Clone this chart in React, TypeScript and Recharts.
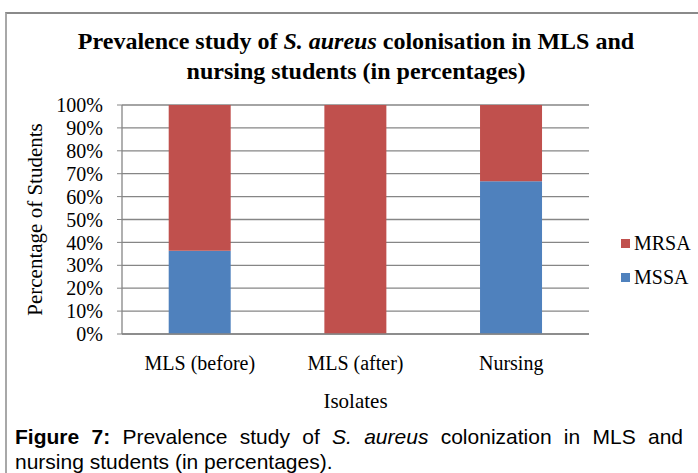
import React from 'react';
import { BarChart, Bar, XAxis, YAxis, CartesianGrid, Legend } from 'recharts';

const categories = ['MLS (before)', 'MLS (after)', 'Nursing'];
const mssaValues = [36.4, 0, 66.7];
const mrsaValues = [63.6, 100, 33.3];
const yTicks = [0, 10, 20, 30, 40, 50, 60, 70, 80, 90, 100];
const boundaryTicks = [0, 1, 2, 3];

const data = categories.map((name, i) => ({
  name,
  pos: i + 0.5,
  MSSA: mssaValues[i],
  MRSA: mrsaValues[i],
}));

const legendItems = [
  { name: 'MRSA', color: '#C0504D' },
  { name: 'MSSA', color: '#4F81BD' },
];

const serif = '"Liberation Serif", "Times New Roman", serif';
const sans = '"Liberation Sans", Arial, sans-serif';
const axisGray = '#868686';

const renderLegend = () => (
  <div style={{ fontFamily: serif, fontSize: 20, color: '#000' }}>
    {legendItems.map((it) => (
      <div key={it.name} style={{ display: 'flex', alignItems: 'center', height: 34, paddingLeft: 32 }}>
        <svg width={9} height={9} style={{ flexShrink: 0, marginRight: 4 }}>
          <rect x={0} y={0} width={9} height={9} fill={it.color} />
        </svg>
        <span>{it.name}</span>
      </div>
    ))}
  </div>
);

const YLabel = (props: any) => {
  const vb = props.viewBox || {};
  const cx = 35;
  const cy = vb.y + vb.height / 2;
  return (
    <text x={cx} y={cy} transform={`rotate(-90, ${cx}, ${cy})`} textAnchor="middle" dominantBaseline="central"
      fontFamily={serif} fontSize={21} fill="#000">
      Percentage of Students
    </text>
  );
};

const XLabel = (props: any) => {
  const vb = props.viewBox || {};
  const cx = vb.x + vb.width / 2;
  return (
    <text x={cx} y={401} textAnchor="middle" dominantBaseline="central" fontFamily={serif} fontSize={21} fill="#000">
      Isolates
    </text>
  );
};

export default function App() {
  return (
    <div style={{ position: 'absolute', left: 0, top: 0, width: 698, height: 473, background: '#fff', overflow: 'hidden' }}>
      <div style={{ position: 'absolute', left: 5, top: 12, width: 760, height: 520, borderTop: '2px solid #8a8a8a', borderLeft: '2px solid #a8a8a8' }} />
      <div style={{ position: 'absolute', left: 0, top: 26, width: 712, textAlign: 'center', fontFamily: serif, fontWeight: 'bold', fontSize: 24, lineHeight: '30px', color: '#000' }}>
        Prevalence study of <i>S. aureus</i> colonisation in MLS and<br />nursing students (in percentages)
      </div>
      <div style={{ position: 'absolute', left: 0, top: 0 }}>
        <BarChart width={698} height={420} data={data} margin={{ top: 105, right: 19, left: 0, bottom: 6 }} barCategoryGap="30%">
          <CartesianGrid horizontal vertical={false} stroke={axisGray} strokeWidth={1.3} />
          <XAxis xAxisId="b" type="number" dataKey="pos" domain={[0, 3]} ticks={boundaryTicks} tick={false}
            height={0} axisLine={false} tickLine={{ stroke: axisGray }} tickSize={5} />
          <XAxis dataKey="name" height={80} tickLine={false} axisLine={{ stroke: axisGray, strokeWidth: 1.3 }}
            tick={{ fontFamily: serif, fontSize: 20, fill: '#000' }} tickSize={5} tickMargin={17} interval={0}
            label={<XLabel />} />
          <YAxis width={122} domain={[0, 100]} ticks={yTicks} interval={0} tickFormatter={(v: number) => `${v}%`}
            axisLine={{ stroke: axisGray, strokeWidth: 1.3 }} tickLine={{ stroke: axisGray }} tickSize={5} tickMargin={14}
            tick={{ fontFamily: serif, fontSize: 20, fill: '#000' }} label={<YLabel />} />
          <Legend layout="vertical" align="right" verticalAlign="middle" content={renderLegend}
            wrapperStyle={{ left: 589, top: 226, width: 90 }} />
          <Bar dataKey="MSSA" stackId="a" fill="#4F81BD" isAnimationActive={false} />
          <Bar dataKey="MRSA" stackId="a" fill="#C0504D" isAnimationActive={false} />
        </BarChart>
      </div>
      <div style={{ position: 'absolute', left: 15, top: 424, width: 668, fontFamily: sans, fontSize: 21, lineHeight: '25px', color: '#000' }}>
        <div style={{ textAlign: 'justify', textAlignLast: 'justify' }}>
          <b>Figure 7:</b> Prevalence study of <i>S. aureus</i> colonization in MLS and
        </div>
        <div>nursing students (in percentages).</div>
      </div>
    </div>
  );
}
